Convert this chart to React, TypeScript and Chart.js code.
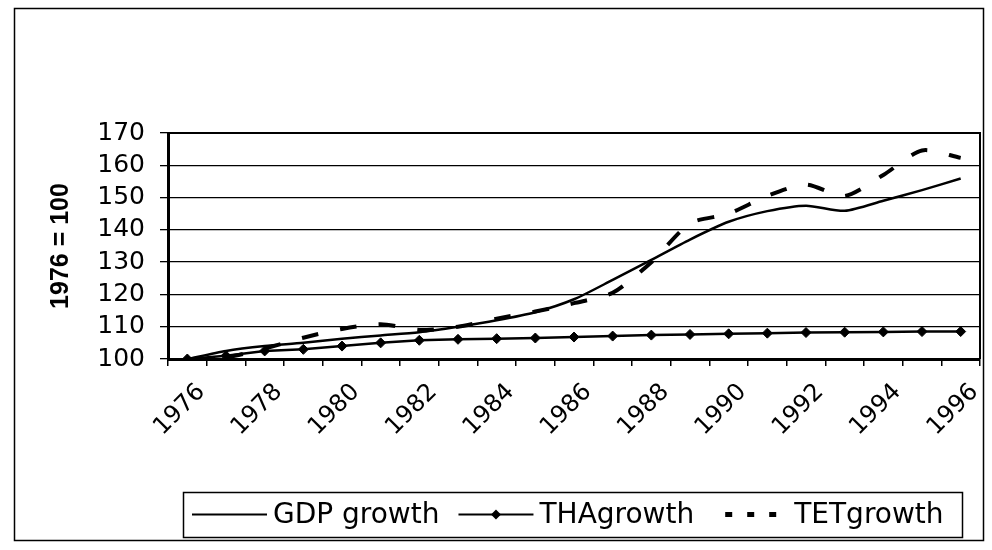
import React, { useEffect, useRef } from "react";
import { Chart, registerables } from "chart.js";

Chart.register(...registerables);

const years = ["1976", "1977", "1978", "1979", "1980", "1981", "1982", "1983", "1984", "1985", "1986", "1987", "1988", "1989", "1990", "1991", "1992", "1993", "1994", "1995", "1996"];
const gdpGrowth = [100, 102.5, 104, 105, 106.3, 107.3, 108.3, 110, 112, 114.5, 118.5, 124.5, 130.7, 137, 142.5, 145.8, 147.5, 145.9, 149, 152.3, 155.9];
const thaGrowth = [100, 101, 102.5, 103, 104, 105, 105.8, 106.1, 106.3, 106.5, 106.8, 107.1, 107.4, 107.6, 107.8, 108, 108.2, 108.3, 108.4, 108.5, 108.5];
const tetGrowth = [100, 100.5, 103.2, 106.6, 109.3, 110.8, 109, 110, 112.5, 114.7, 117.3, 120.5, 130, 142, 145, 150.5, 154, 150.5, 157, 164.6, 162.3];
const seriesNames = ["GDP growth", "THAgrowth", "TETgrowth"];
const yAxisTitle = "1976 = 100";
const yMin = 100;
const yMax = 170;
const yStep = 10;

const FONT = "'DejaVu Sans', sans-serif";

const framePlugin = {
  id: "frame",
  afterDraw(chart: any) {
    const ctx = chart.ctx;
    const a = chart.chartArea;
    ctx.save();
    ctx.strokeStyle = "#000";
    // outer box
    ctx.lineWidth = 1.5;
    ctx.strokeRect(14.5, 8.5, 969, 532);
    // plot area right & top border
    ctx.lineWidth = 2;
    ctx.beginPath();
    ctx.moveTo(a.left, a.top);
    ctx.lineTo(a.right, a.top);
    ctx.lineTo(a.right, a.bottom);
    ctx.stroke();
    // y axis title
    ctx.save();
    ctx.translate(61, (a.top + a.bottom) / 2);
    ctx.rotate(-Math.PI / 2);
    ctx.font = "bold 25px 'Liberation Sans', Arial, sans-serif";
    ctx.fillStyle = "#000";
    ctx.textAlign = "center";
    ctx.textBaseline = "middle";
    ctx.fillText(yAxisTitle, 0, 0);
    ctx.restore();

    // legend
    const ds = chart.data.datasets;
    const boxL = 183, boxT = 492, boxR = 962, boxB = 537;
    ctx.lineWidth = 1.5;
    ctx.strokeRect(boxL + 0.5, boxT + 0.5, boxR - boxL, boxB - boxT);
    const cy = (boxT + boxB) / 2;
    ctx.font = "28px " + FONT;
    ctx.textBaseline = "middle";
    ctx.textAlign = "left";
    let x = 192;
    const sampleLen = 75;
    ds.forEach((d: any, i: number) => {
      ctx.save();
      ctx.strokeStyle = "#000";
      if (i === 2) {
        ctx.lineWidth = 5;
        ctx.setLineDash([7, 15]);
        ctx.beginPath();
        ctx.moveTo(x + 12, cy);
        ctx.lineTo(x + sampleLen, cy);
        ctx.stroke();
      } else {
        ctx.lineWidth = 2;
        ctx.beginPath();
        ctx.moveTo(x, cy);
        ctx.lineTo(x + sampleLen, cy);
        ctx.stroke();
        if (i === 1) {
          ctx.fillStyle = "#000";
          ctx.beginPath();
          const mx = x + sampleLen / 2;
          ctx.moveTo(mx, cy - 5);
          ctx.lineTo(mx + 5, cy);
          ctx.lineTo(mx, cy + 5);
          ctx.lineTo(mx - 5, cy);
          ctx.closePath();
          ctx.fill();
        }
      }
      ctx.restore();
      x += sampleLen + 6;
      ctx.fillStyle = "#000";
      ctx.fillText(d.label, x, cy + 1);
      x += ctx.measureText(d.label).width + 19;
    });
    ctx.restore();
  },
};

export default function App() {
  const canvasRef = useRef<HTMLCanvasElement | null>(null);

  useEffect(() => {
    if (!canvasRef.current) return;
    const chart = new Chart(canvasRef.current, {
      type: "line",
      data: {
        labels: years,
        datasets: [
          {
            label: seriesNames[0],
            data: gdpGrowth,
            borderColor: "#000",
            borderWidth: 2.5,
            pointRadius: 0,
            tension: 0.25,
            fill: false,
          },
          {
            label: seriesNames[1],
            data: thaGrowth,
            borderColor: "#000",
            backgroundColor: "#000",
            borderWidth: 2.5,
            pointStyle: "rectRot",
            pointRadius: 5,
            pointBorderWidth: 1,
            tension: 0,
            fill: false,
          },
          {
            label: seriesNames[2],
            data: tetGrowth,
            borderColor: "#000",
            borderWidth: 4,
            borderDash: [17, 22],
            pointRadius: 0,
            tension: 0.25,
            fill: false,
          },
        ],
      },
      options: {
        animation: false,
        responsive: false,
        devicePixelRatio: 1,
        layout: { padding: { left: 14, top: 133, right: 12, bottom: 0 } },
        plugins: {
          legend: { display: false },
          tooltip: { enabled: false },
          title: { display: false },
        },
        scales: {
          x: {
            type: "category",
            offset: true,
            afterFit: (s: any) => {
              s.height = 191;
              s.paddingLeft = 0;
              s.paddingRight = 0;
            },
            grid: {
              offset: true,
              drawOnChartArea: false,
              drawTicks: true,
              tickLength: 7,
              color: "#000",
              lineWidth: 1.5,
            },
            border: { display: true, color: "#000", width: 3 },
            ticks: {
              autoSkip: false,
              maxRotation: 45,
              minRotation: 45,
              color: "#000",
              font: { family: FONT, size: 24 },
              padding: 12,
              labelOffset: 14,
              callback: (_v: any, i: number) => (i % 2 === 0 ? years[i] : ""),
            },
          },
          y: {
            min: yMin,
            max: yMax,
            afterFit: (s: any) => {
              s.width = 154;
            },
            grid: {
              color: "#000",
              lineWidth: 1.3,
              tickLength: 8,
              drawTicks: true,
            },
            border: { display: true, color: "#000", width: 3 },
            ticks: {
              stepSize: yStep,
              autoSkip: false,
              color: "#000",
              font: { family: FONT, size: 25, lineHeight: 1 },
              padding: 15,
            },
          },
        },
      },
      plugins: [framePlugin],
    });
    return () => chart.destroy();
  }, []);

  return (
    <div style={{ position: "absolute", left: 0, top: 0, width: 992, height: 550, background: "#fff" }}>
      <canvas ref={canvasRef} width={992} height={550} style={{ display: "block" }} />
    </div>
  );
}
